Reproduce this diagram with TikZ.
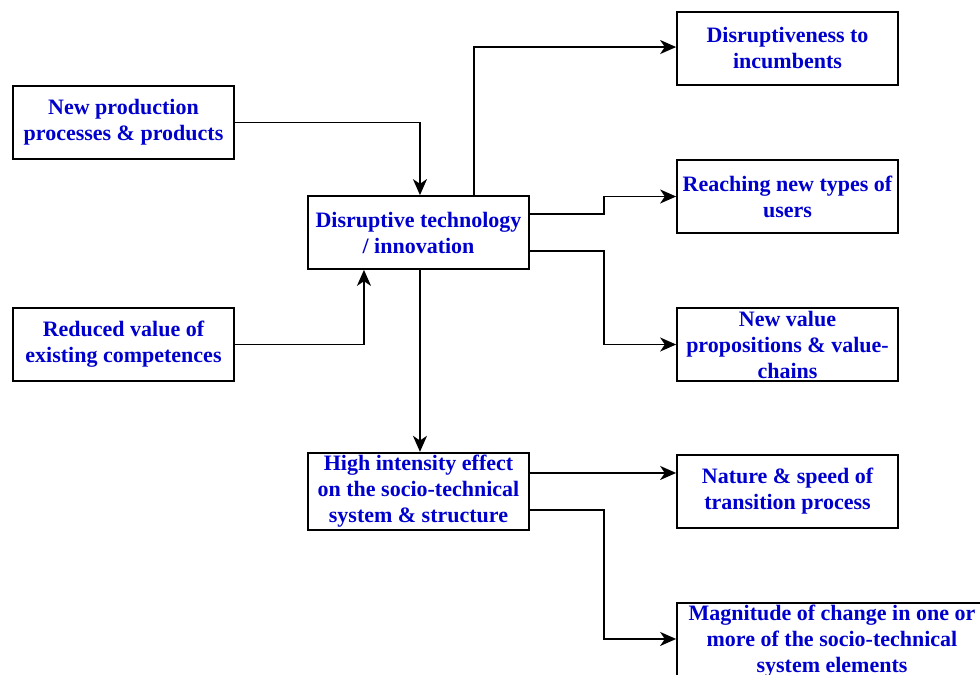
\documentclass[tikz,border=0pt]{standalone}
\usepackage{fontspec}
\setmainfont{Liberation Serif}
\usetikzlibrary{arrows.meta}
\definecolor{txtblue}{RGB}{0,0,204}

\begin{document}
\begin{tikzpicture}[x=0.75pt, y=-0.75pt,
    box/.style={draw, line width=1.3pt, minimum width=165.75pt, minimum height=54.75pt,
        align=center, inner sep=2pt, text=txtblue,
        font=\fontsize{16.5pt}{19.5pt}\selectfont\bfseries},
    arr/.style={line width=1.3pt, -{Stealth[length=12pt, width=10.5pt, inset=3.5pt]}}]
        \useasboundingbox (0, 0) rectangle (980, 674);
        \clip (0, 0) rectangle (980, 674);

        \node[box] (prod) at (123.5, 122.5) {New production\\processes \& products};
        \node[box] (comp) at (123.5, 344.5) {Reduced value of\\existing competences};
        \node[box] (tech) at (418.5, 232.5) {Disruptive technology\\/ innovation};
        \node[box] (effect) at (418.5, 491.5) {High intensity effect\\on the socio-technical\\system \& structure};

        \node[box] (incumb) at (787.5, 48.5) {Disruptiveness to\\incumbents};
        \node[box] (users) at (787.5, 196.5) {Reaching new types of\\users};
        \node[box] (value) at (787.5, 344.5) {New value\\propositions \& value-\\chains};
        \node[box] (speed) at (787.5, 491.5) {Nature \& speed of\\transition process};
        \node[box, minimum width=232.5pt] (magn) at (832, 641.5) {Magnitude of change in one or\\more of the socio-technical\\system elements};

        \draw[arr] (prod.east) -| ([xshift=1.1pt]tech.north);
        \draw[arr] (comp.east) -| ([xshift=-40.9pt]tech.south);
        \draw[arr] ([xshift=41.6pt]tech.north) |- ([yshift=1.1pt]incumb.west);
        \draw[arr] ([yshift=13.9pt]tech.east) -- ++(74, 0) |- (users.west);
        \draw[arr] ([yshift=-13.9pt]tech.east) -- ++(74, 0) |- (value.west);
        \draw[arr] ([xshift=1.1pt]tech.south) -- ([xshift=1.1pt]effect.north);
        \draw[arr] ([yshift=13.9pt]effect.east) -- ([yshift=13.9pt]speed.west);
        \draw[arr] ([yshift=-13.9pt]effect.east) -- ++(74, 0) |- ([yshift=1.9pt]magn.west);
    \end{tikzpicture}
\end{document}
